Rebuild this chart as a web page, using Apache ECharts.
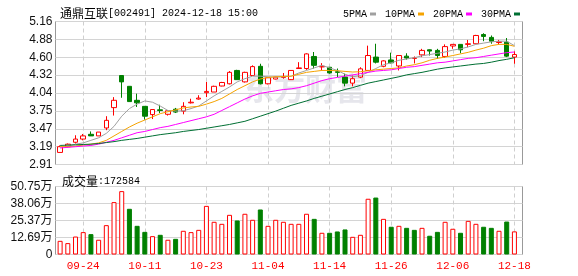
<!DOCTYPE html>
<html><head><meta charset="utf-8">
<script src="https://cdn.jsdelivr.net/npm/echarts@6/dist/echarts.min.js"></script>
<style>html,body{margin:0;padding:0;background:#fff}#c{width:578px;height:276px}</style>
</head><body><div id="c"></div>
<script>
const dates = ['09-19','09-20','09-23','09-24','09-25','09-26','09-27','09-30','10-08','10-09','10-10','10-11','10-14','10-15','10-16','10-17','10-18','10-21','10-22','10-23','10-24','10-25','10-28','10-29','10-30','10-31','11-01','11-04','11-05','11-06','11-07','11-08','11-11','11-12','11-13','11-14','11-15','11-18','11-19','11-20','11-21','11-22','11-25','11-26','11-27','11-28','11-29','12-02','12-03','12-04','12-05','12-06','12-09','12-10','12-11','12-12','12-13','12-16','12-17','12-18'];
const opens  = [3.10,3.19,3.26,3.31,3.385,3.36,3.485,3.805,4.31,4.14,3.92,3.825,3.695,3.77,3.70,3.78,3.75,3.88,3.94,4.04,4.05,4.145,4.18,4.39,4.21,4.31,4.455,4.18,4.255,4.28,4.245,4.42,4.42,4.61,4.445,4.44,4.37,4.285,4.19,4.285,4.39,4.60,4.455,4.555,4.46,4.615,4.58,4.635,4.715,4.705,4.61,4.775,4.80,4.80,4.81,4.955,4.91,4.83,4.835,4.60];
const closes = [3.19,3.23,3.31,3.36,3.36,3.42,3.605,3.92,4.21,3.90,3.88,3.67,3.775,3.76,3.755,3.735,3.825,3.89,3.955,4.06,4.14,4.20,4.36,4.245,4.36,4.45,4.18,4.275,4.285,4.29,4.39,4.43,4.65,4.47,4.455,4.35,4.36,4.19,4.26,4.415,4.625,4.52,4.54,4.51,4.625,4.585,4.585,4.705,4.695,4.625,4.765,4.80,4.715,4.81,4.94,4.925,4.85,4.84,4.615,4.64];
const lows   = [3.10,3.18,3.24,3.29,3.36,3.36,3.45,3.68,3.96,3.90,3.815,3.615,3.625,3.72,3.68,3.72,3.70,3.87,3.93,3.97,4.05,4.14,4.17,4.24,4.20,4.31,4.17,4.17,4.25,4.26,4.24,4.42,4.40,4.42,4.39,4.34,4.285,4.14,4.14,4.27,4.38,4.50,4.44,4.50,4.39,4.56,4.50,4.60,4.625,4.575,4.59,4.73,4.66,4.755,4.81,4.85,4.81,4.80,4.60,4.495];
const highs  = [3.21,3.24,3.37,3.39,3.43,3.42,3.67,3.97,4.31,4.14,4.025,3.825,3.775,3.85,3.755,3.80,3.89,3.945,4.00,4.21,4.15,4.21,4.38,4.40,4.37,4.47,4.495,4.28,4.29,4.35,4.39,4.52,4.66,4.68,4.505,4.44,4.42,4.34,4.31,4.44,4.78,4.81,4.55,4.67,4.63,4.66,4.61,4.73,4.72,4.73,4.80,4.80,4.80,4.87,4.95,4.975,4.94,4.87,4.90,4.69];
const volumes = [102000,85000,134000,167000,152000,110000,219000,391000,473000,341000,214000,169000,137000,147000,110000,117000,177000,167000,184000,363000,244000,229000,296000,254000,304000,259000,336000,214000,259000,244000,229000,229000,304000,266000,162000,162000,172000,187000,132000,147000,416000,425000,266000,207000,214000,199000,184000,199000,140000,169000,244000,192000,162000,251000,229000,207000,199000,177000,246000,172584];
const volUp = [1,1,1,1,0,1,1,1,1,0,0,0,1,0,1,0,1,1,1,1,1,1,1,0,1,1,0,1,1,1,1,1,1,0,1,0,0,0,1,1,1,0,1,0,1,0,0,1,0,0,1,1,0,1,1,0,0,1,0,1];
const ma5  = [3.19,3.20,3.23,3.25,3.29,3.33,3.40,3.51,3.67,3.79,3.86,3.91,3.89,3.83,3.76,3.75,3.755,3.79,3.83,3.91,3.99,4.06,4.13,4.21,4.26,4.30,4.30,4.29,4.285,4.29,4.30,4.35,4.39,4.43,4.47,4.43,4.39,4.33,4.29,4.31,4.36,4.42,4.48,4.51,4.55,4.57,4.59,4.62,4.64,4.66,4.68,4.71,4.73,4.76,4.80,4.82,4.84,4.85,4.85,4.78];
const ma10 = [3.19,3.19,3.20,3.215,3.23,3.25,3.29,3.36,3.43,3.50,3.56,3.61,3.66,3.71,3.74,3.77,3.80,3.815,3.825,3.86,3.90,3.95,4.02,4.09,4.15,4.21,4.255,4.28,4.29,4.295,4.30,4.33,4.36,4.375,4.39,4.39,4.385,4.375,4.365,4.37,4.385,4.40,4.41,4.42,4.43,4.46,4.48,4.51,4.55,4.58,4.60,4.625,4.65,4.675,4.71,4.74,4.78,4.80,4.80,4.77];
const ma20 = [3.17,3.18,3.19,3.20,3.21,3.23,3.26,3.29,3.33,3.37,3.41,3.43,3.46,3.49,3.51,3.54,3.57,3.60,3.63,3.66,3.70,3.76,3.82,3.88,3.94,3.99,4.03,4.05,4.07,4.09,4.10,4.12,4.15,4.19,4.23,4.26,4.28,4.30,4.32,4.34,4.36,4.38,4.39,4.40,4.42,4.44,4.45,4.47,4.49,4.51,4.52,4.54,4.56,4.58,4.59,4.61,4.63,4.65,4.67,4.68];
const ma30 = [3.21,3.215,3.22,3.225,3.23,3.24,3.255,3.27,3.29,3.305,3.32,3.34,3.36,3.38,3.395,3.41,3.43,3.445,3.46,3.48,3.50,3.52,3.54,3.565,3.59,3.63,3.67,3.71,3.75,3.795,3.84,3.875,3.91,3.95,3.985,4.02,4.055,4.09,4.12,4.155,4.19,4.215,4.24,4.265,4.29,4.32,4.34,4.36,4.385,4.41,4.43,4.445,4.46,4.475,4.49,4.50,4.52,4.545,4.565,4.59];
const priceTickLabels = ['2.91','3.19','3.47','3.75','4.04','4.32','4.60','4.88','5.16'];
const volTickLabels = ['0','12.69万','25.37万','38.06万','50.75万'];
const dateLabelIdx = [3,11,19,27,35,43,51,59];
const stockTitle = '通鼎互联';
const stockCode = '[002491] 2024-12-18 15:00';

const priceMin = 2.91, priceMax = 5.16;
const priceStep = (priceMax - priceMin) / (priceTickLabels.length - 1);
const priceTickVals = priceTickLabels.map((_, k) => priceMin + k * priceStep);
const volMax = 507500, volStep = volMax / (volTickLabels.length - 1);

const RED = '#ff0000', GREEN = '#008000';
const GRID_L = 55.5, GRID_W = 467;
const mono = "'Liberation Mono', monospace";
const richText = {
  a: {fontFamily: "'Noto Sans CJK SC'", fontSize: 12, color: '#000', fontWeight: 'normal'},
  b: {fontFamily: mono, fontSize: 10, color: '#000', fontWeight: 'normal'}
};

function xAxisCfg(gi, showLabels) {
  return {
    type: 'value', gridIndex: gi, min: -0.6, max: 60.05,
    axisLine: {show: false},
    axisTick: {show: false, customValues: dateLabelIdx},
    axisLabel: {show: showLabels, customValues: dateLabelIdx, formatter: v => dates[Math.round(v)],
      color: RED, fontFamily: mono, fontSize: 11, margin: 6},
    splitLine: {show: true, lineStyle: {color: '#cfcfcf', type: [4, 3], width: 1}}
  };
}
function lineSeries(name, arr, color) {
  return {type: 'line', name, xAxisIndex: 0, yAxisIndex: 0, data: arr.map((v, i) => [i, v]),
    showSymbol: false, symbol: 'none', z: 4, lineStyle: {color, width: 1}, itemStyle: {color}, silent: true, animation: false};
}

const chart = echarts.init(document.getElementById('c'), null, {renderer: 'canvas'});
chart.setOption({
  animation: false,
  backgroundColor: '#fff',
  title: [
    {left: 55, top: 2, text: '{a|' + stockTitle + '}{b|' + stockCode + '}',
      textStyle: {fontWeight: 'normal', rich: richText}},
    {left: 57, top: 170, text: '{a|成交量}{b|:' + volumes[volumes.length - 1] + '}',
      textStyle: {fontWeight: 'normal', rich: richText}}
  ],
  legend: {
    left: 338, top: 4, align: 'right', icon: 'rect', itemWidth: 6, itemHeight: 3, itemGap: 9,
    selectedMode: false, data: ['5PMA', '10PMA', '20PMA', '30PMA'],
    textStyle: {fontFamily: mono, fontSize: 10, color: '#000', padding: [0, -2, 0, 0]}
  },
  graphic: [{type: 'text', left: 243, top: 73, z: -1, silent: true,
    style: {text: '东方财富', fill: '#e6e6ec', font: "bold 31px 'Noto Sans CJK SC'"}}],
  grid: [
    {left: GRID_L, top: 21.5, width: GRID_W, height: 143, show: true, borderColor: '#999', borderWidth: 1, backgroundColor: 'transparent'},
    {left: GRID_L, top: 186.5, width: GRID_W, height: 68, show: true, borderColor: '#999', borderWidth: 1, backgroundColor: 'transparent'}
  ],
  xAxis: [xAxisCfg(0, false), xAxisCfg(1, true)],
  yAxis: [
    {type: 'value', gridIndex: 0, min: priceMin, max: priceMax, scale: true,
      axisLine: {show: false}, axisTick: {show: false, customValues: priceTickVals},
      axisLabel: {customValues: priceTickVals, formatter: v => priceTickLabels[Math.round((v - priceMin) / priceStep)],
        fontFamily: "'Liberation Sans'", fontSize: 12, color: '#111', margin: 3},
      splitLine: {lineStyle: {color: '#d4d4d4', width: 1}}},
    {type: 'value', gridIndex: 1, min: 0, max: volMax, interval: volStep,
      axisLine: {show: false}, axisTick: {show: false},
      axisLabel: {formatter: v => volTickLabels[Math.round(v / volStep)],
        fontFamily: "'Liberation Sans', 'Noto Sans CJK SC'", fontSize: 12, color: '#111', margin: 3},
      splitLine: {lineStyle: {color: '#d4d4d4', width: 1}}}
  ],
  series: [
    {type: 'candlestick', name: 'K', xAxisIndex: 0, yAxisIndex: 0, barWidth: 5, z: 3,
      data: dates.map((d, i) => [i, opens[i], closes[i], lows[i], highs[i]]),
      itemStyle: {color: '#fff', color0: GREEN, borderColor: RED, borderColor0: GREEN, borderWidth: 1}},
    lineSeries('5PMA', ma5, '#a0a0a0'),
    lineSeries('10PMA', ma10, '#f5a300'),
    lineSeries('20PMA', ma20, '#ff00ff'),
    lineSeries('30PMA', ma30, '#006f33'),
    {type: 'bar', name: 'VOL', xAxisIndex: 1, yAxisIndex: 1, barWidth: 5,
      data: volumes.map((v, i) => ({value: [i, v], itemStyle: {color: volUp[i] ? '#fff' : GREEN, borderColor: volUp[i] ? RED : GREEN, borderWidth: 1}}))}
  ]
});
</script></body></html>
